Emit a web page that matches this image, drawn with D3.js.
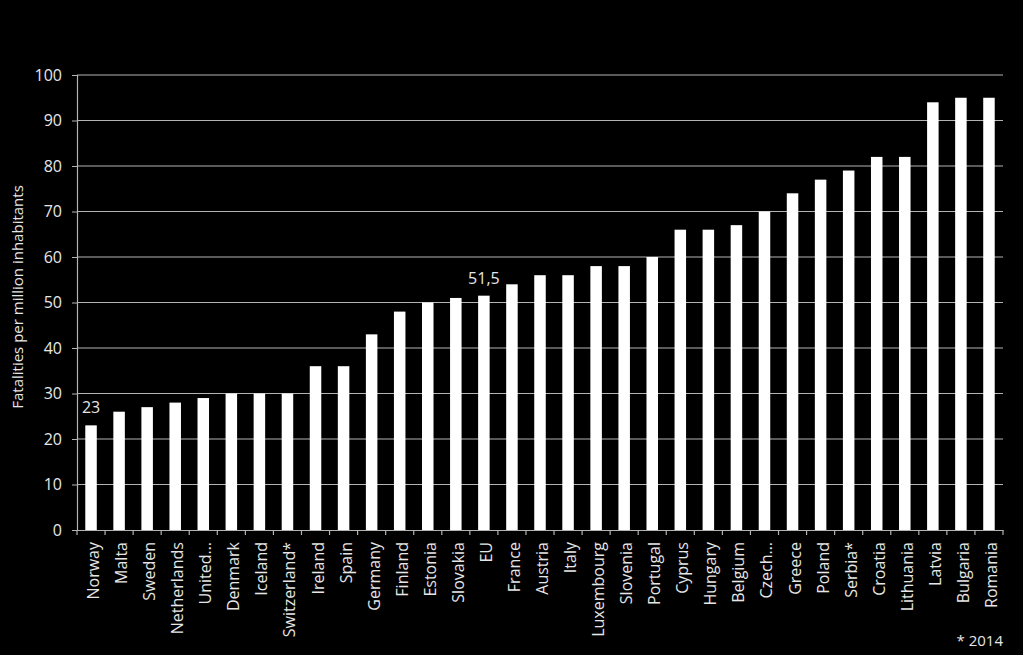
<!DOCTYPE html>
<html>
<head>
<meta charset="utf-8">
<script src="https://cdn.jsdelivr.net/npm/d3@7"></script>
<style>
  html, body { margin: 0; padding: 0; background: #000; }
  svg { display: block; }
  text { font-family: "Open Sans", sans-serif; fill: #e6e6e6; }
</style>
</head>
<body>
<script>
const categories = ["Norway","Malta","Sweden","Netherlands","United…","Denmark","Iceland","Switzerland*","Ireland","Spain","Germany","Finland","Estonia","Slovakia","EU","France","Austria","Italy","Luxembourg","Slovenia","Portugal","Cyprus","Hungary","Belgium","Czech…","Greece","Poland","Serbia*","Croatia","Lithuania","Latvia","Bulgaria","Romania"];
const values = [23,26,27,28,29,30,30,30,36,36,43,48,50,51,51.5,54,56,56,58,58,60,66,66,67,70,74,77,79,82,82,94,95,95];
const labelled = {"Norway":"23","EU":"51,5"};
const yTicks = [0,10,20,30,40,50,60,70,80,90,100];
const yTitle = "Fatalities per million inhabitants";
const footnote = "* 2014";

const W = 1023, H = 655;
const m = {left: 77, right: 20, top: 75, bottom: 125};
const FONT = "'Open Sans', sans-serif";

const svg = d3.select("body").append("svg").attr("width", W).attr("height", H);

const x = d3.scaleBand().domain(categories).range([m.left, W - m.right]).paddingInner(0.59).paddingOuter(0.295);
const y = d3.scaleLinear().domain([0, 100]).range([H - m.bottom, m.top]);

// gridlines
svg.append("g").selectAll("line").data(yTicks.filter(d => d > 0)).join("line")
  .attr("x1", m.left).attr("x2", W - m.right)
  .attr("y1", d => y(d)).attr("y2", d => y(d))
  .attr("stroke", "#b3b3b3").attr("stroke-width", 1.2);

// bars
svg.append("g").selectAll("rect").data(categories).join("rect")
  .attr("x", d => x(d)).attr("width", x.bandwidth())
  .attr("y", (d, i) => y(values[i])).attr("height", (d, i) => y(0) - y(values[i]))
  .attr("fill", "#ffffff");

// y axis
const yAxis = svg.append("g").attr("transform", `translate(${m.left},0)`)
  .call(d3.axisLeft(y).tickValues(yTicks).tickSize(5).tickPadding(10));
yAxis.select(".domain").attr("stroke", "#b3b3b3").attr("stroke-width", 1.2);
yAxis.selectAll(".tick line").attr("stroke", "#b3b3b3");
yAxis.selectAll("text").attr("font-size", 16).attr("fill", "#e6e6e6").attr("font-family", FONT);

// x axis
const xAxis = svg.append("g").attr("transform", `translate(0,${y(0)})`)
  .call(d3.axisBottom(x).tickSize(0).tickPadding(0));
xAxis.select(".domain").attr("stroke", "#b3b3b3").attr("stroke-width", 1.2);
xAxis.selectAll(".tick text")
  .attr("font-size", 16).attr("fill", "#e6e6e6").attr("font-family", FONT)
  .attr("transform", "rotate(-90)")
  .attr("text-anchor", "end").attr("x", -12).attr("y", 0).attr("dy", "0.5em");
// boundary tick marks
const step = x.step();
const bounds = d3.range(categories.length + 1).map(i => m.left + i * step);
svg.append("g").selectAll("line").data(bounds).join("line")
  .attr("x1", d => d).attr("x2", d => d)
  .attr("y1", y(0)).attr("y2", y(0) + 5)
  .attr("stroke", "#b3b3b3").attr("stroke-width", 1.2);

// data labels
svg.append("g").selectAll("text").data(categories.filter(c => labelled[c])).join("text")
  .attr("x", d => x(d) + x.bandwidth() / 2)
  .attr("y", d => y(values[categories.indexOf(d)]) - 12)
  .attr("text-anchor", "middle").attr("font-size", 16)
  .text(d => labelled[d]);

// y title
svg.append("text")
  .attr("transform", `translate(23,297) rotate(-90)`)
  .attr("text-anchor", "middle").attr("font-size", 15)
  .text(yTitle);

// footnote
svg.append("text").attr("x", 1003).attr("y", 646).attr("text-anchor", "end")
  .attr("font-size", 15).text(footnote);
</script>
</body>
</html>
